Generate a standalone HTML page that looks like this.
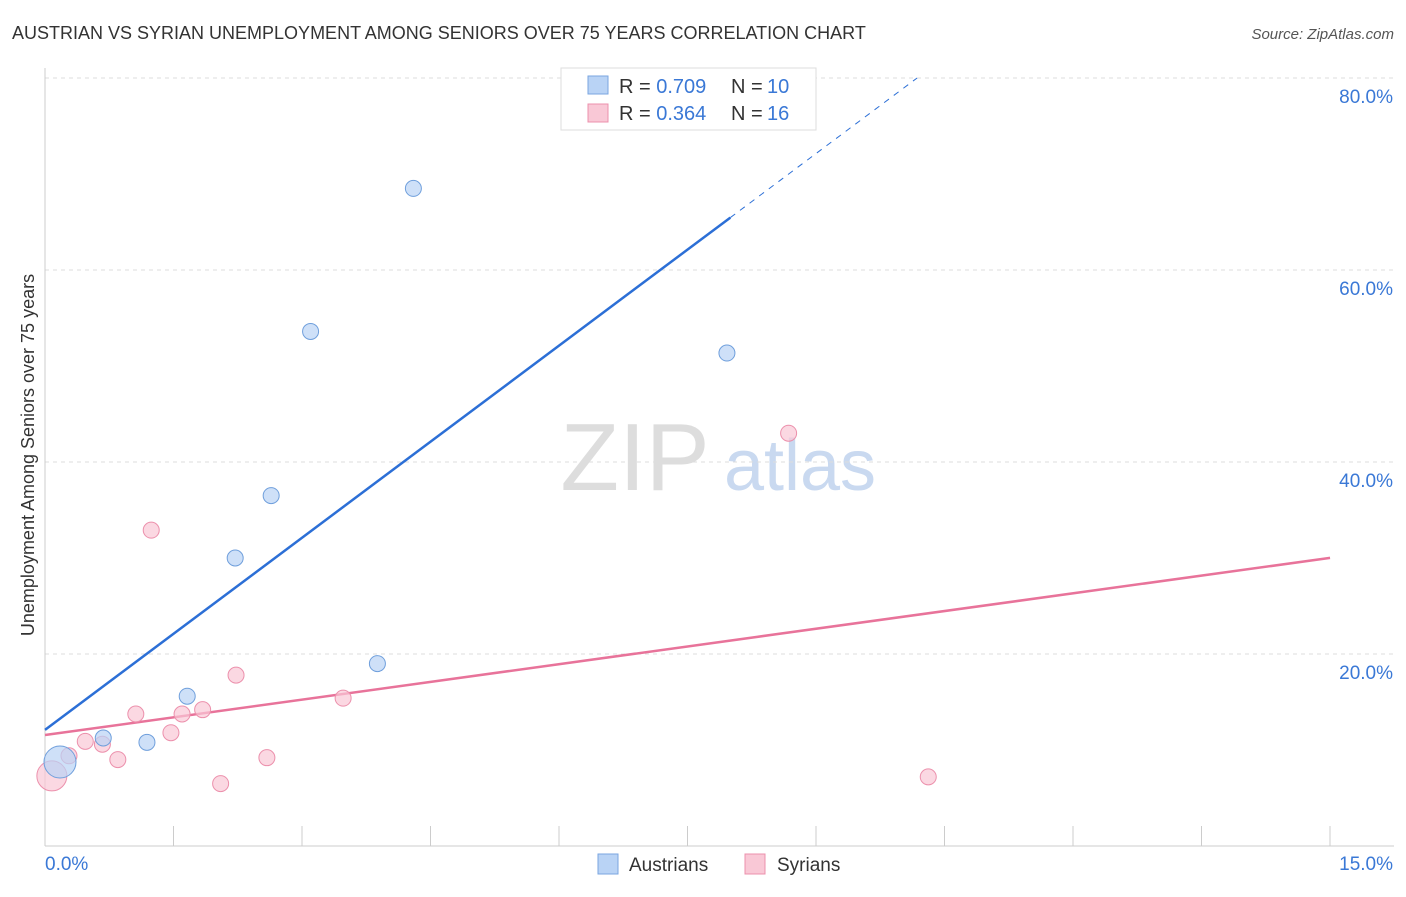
<!DOCTYPE html>
<html><head><meta charset="utf-8"><style>
body{margin:0;background:#fff;font-family:"Liberation Sans",sans-serif;}
svg text{font-family:"Liberation Sans",sans-serif;}
</style></head><body>
<svg id="chart" width="1406" height="892">
<text x="12" y="39" font-size="18" fill="#333">AUSTRIAN VS SYRIAN UNEMPLOYMENT AMONG SENIORS OVER 75 YEARS CORRELATION CHART</text>
<text x="1394" y="39" font-size="15" fill="#555" font-style="italic" text-anchor="end">Source: ZipAtlas.com</text>
<text x="635" y="490" font-size="96" fill="#ddd" font-family="Liberation Serif" text-anchor="middle">ZIP</text>
<text x="800" y="490" font-size="72" fill="#c9d9f0" text-anchor="middle">atlas</text>
<g id="grid"></g>
<g id="axes"></g>
<g id="marks"></g>
<text transform="translate(34,455) rotate(-90)" font-size="18" fill="#333" text-anchor="middle">Unemployment Among Seniors over 75 years</text>
<g>
<rect x="561" y="68" width="255" height="62" fill="#fff" stroke="#ddd"/>
<rect x="588" y="76" width="20" height="18" fill="#b9d3f5" stroke="#7aa6e0"/>
<text x="619" y="93" font-size="20" fill="#333">R = <tspan fill="#3a78d6">0.709</tspan><tspan x="731">N = </tspan><tspan x="767" fill="#3a78d6">10</tspan></text>
<rect x="588" y="104" width="20" height="18" fill="#f9c8d6" stroke="#ec90ac"/>
<text x="619" y="120" font-size="20" fill="#333">R = <tspan fill="#3a78d6">0.364</tspan><tspan x="731">N = </tspan><tspan x="767" fill="#3a78d6">16</tspan></text>
</g>
<g>
<rect x="598" y="854" width="20" height="20" fill="#b9d3f5" stroke="#7aa6e0"/>
<text x="629" y="871" font-size="19" fill="#333">Austrians</text>
<rect x="745" y="854" width="20" height="20" fill="#f9c8d6" stroke="#ec90ac"/>
<text x="777" y="871" font-size="19" fill="#333">Syrians</text>
</g>
</svg>
<script>
const yTicks=[20,40,60,80];
const xTickLabels=["0.0%","15.0%"];
const ausX=[0.175,0.68,1.19,1.66,2.22,2.64,3.10,3.88,4.30,7.96];
const ausY=[8.75,11.25,10.8,15.6,30.0,36.5,53.6,19.0,68.5,51.35];
const syrX=[0.08,0.28,0.47,0.67,0.85,1.06,1.24,1.47,1.60,1.84,2.05,2.23,2.59,3.48,8.68,10.31];
const syrY=[7.3,9.4,10.9,10.6,9.0,13.75,32.9,11.8,13.75,14.2,6.5,17.8,9.2,15.4,43.0,7.2];
const ausTrend=[12.1,6.67];
const syrTrend=[11.56,1.23];
const NS="http://www.w3.org/2000/svg";
const X=v=>45+v*85.67, Y=v=>846-v*9.6;
function mk(p,t,a){const e=document.createElementNS(NS,t);for(const k in a)e.setAttribute(k,a[k]);p.appendChild(e);return e;}
const grid=document.getElementById('grid'),axes=document.getElementById('axes'),marks=document.getElementById('marks');
yTicks.forEach(t=>{
 const l=mk(grid,'line',{x1:45,x2:1394,y1:Y(t),y2:Y(t),stroke:'#ddd','stroke-dasharray':'4,4'});
 
 
 const tx=mk(grid,'text',{x:1393,y:Y(t)+25,'font-size':19,fill:'#3a78d6','text-anchor':'end'});tx.textContent=t.toFixed(1)+'%';
 
 
});
mk(axes,'line',{x1:45,x2:1394,y1:846,y2:846,stroke:'#ccc'});
mk(axes,'line',{x1:45,x2:45,y1:68,y2:846,stroke:'#ccc'});
for(let i=1;i<=10;i++){mk(axes,'line',{x1:45+i*128.5,x2:45+i*128.5,y1:826,y2:846,stroke:'#ccc'});}
const t0=mk(axes,'text',{x:45,y:870,'font-size':19,fill:'#3a78d6'});t0.textContent=xTickLabels[0];


const t1=mk(axes,'text',{x:1393,y:870,'font-size':19,fill:'#3a78d6','text-anchor':'end'});t1.textContent=xTickLabels[1];


const ta=mk(marks,'line',{x1:X(0),y1:Y(ausTrend[0]),x2:X(8),y2:Y(ausTrend[0]+8*ausTrend[1]),stroke:'#2c6fd6','stroke-width':2.5});


const xe=(80-ausTrend[0])/ausTrend[1];
const td=mk(marks,'line',{x1:X(8),y1:Y(ausTrend[0]+8*ausTrend[1]),x2:X(xe),y2:Y(80),stroke:'#2c6fd6','stroke-width':1,'stroke-dasharray':'6,6'});


const ts=mk(marks,'line',{x1:X(0),y1:Y(syrTrend[0]),x2:X(15),y2:Y(syrTrend[0]+15*syrTrend[1]),stroke:'#e8739a','stroke-width':2.5});


syrX.forEach((x,i)=>{const c=mk(marks,'circle',{cx:X(x),cy:Y(syrY[i]),r:i==0?15:8,fill:'#f9c8d6','fill-opacity':0.7,stroke:'#ec90ac'});
 
 });
ausX.forEach((x,i)=>{const c=mk(marks,'circle',{cx:X(x),cy:Y(ausY[i]),r:i==0?16:8,fill:'#b9d3f5','fill-opacity':0.7,stroke:'#6f9fdc'});
 
 });
</script>
</body></html>
